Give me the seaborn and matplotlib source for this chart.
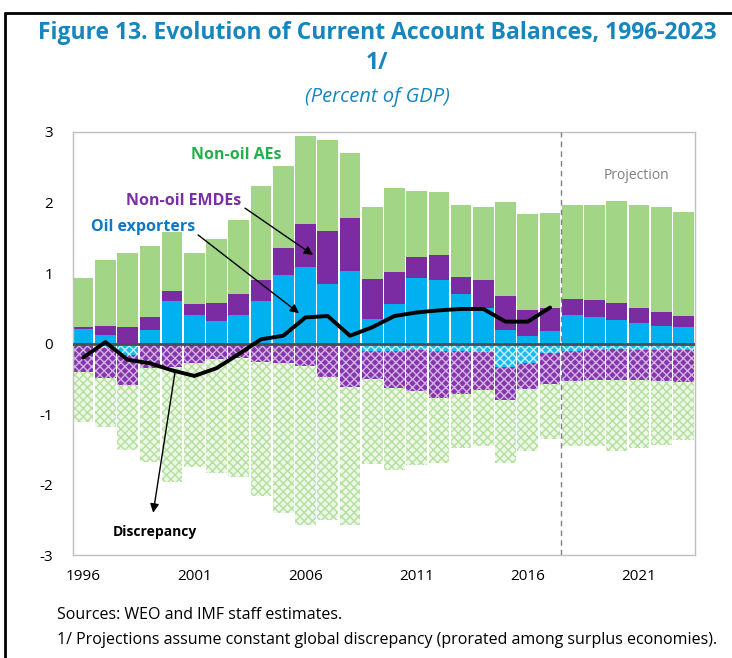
import numpy as np
import pandas as pd
import matplotlib
matplotlib.use("Agg")
import matplotlib.pyplot as plt
from matplotlib.lines import Line2D
import seaborn as sns

years = list(range(1996, 2024))
oil_pos = [0.21, 0.12, 0.00, 0.19, 0.60, 0.41, 0.32, 0.41, 0.60, 0.97, 1.08, 0.84, 1.03, 0.35,
           0.56, 0.93, 0.90, 0.70, 0.51, 0.19, 0.10, 0.18, 0.40, 0.38, 0.33, 0.29, 0.25, 0.24]
emde_pos = [0.02, 0.13, 0.23, 0.18, 0.14, 0.15, 0.25, 0.29, 0.30, 0.39, 0.61, 0.76, 0.75, 0.56,
            0.45, 0.29, 0.35, 0.25, 0.39, 0.49, 0.38, 0.33, 0.23, 0.24, 0.24, 0.22, 0.19, 0.15]
ae_pos = [0.70, 0.93, 1.05, 1.02, 0.84, 0.72, 0.91, 1.05, 1.34, 1.16, 1.25, 1.29, 0.92, 1.03,
          1.20, 0.94, 0.90, 1.02, 1.04, 1.32, 1.35, 1.34, 1.33, 1.34, 1.45, 1.46, 1.49, 1.47]
oil_neg = [0.00, -0.07, -0.16, 0.00, 0.00, 0.00, 0.00, 0.00, 0.00, 0.00, 0.00, 0.00, 0.00, -0.11,
           -0.11, -0.09, -0.10, -0.11, -0.12, -0.34, -0.27, -0.14, -0.10, -0.09, -0.08, -0.09, -0.09, -0.09]
emde_neg = [-0.40, -0.42, -0.43, -0.35, -0.34, -0.28, -0.22, -0.21, -0.26, -0.28, -0.32, -0.48, -0.62, -0.40,
            -0.52, -0.59, -0.67, -0.60, -0.54, -0.46, -0.38, -0.43, -0.43, -0.43, -0.44, -0.43, -0.44, -0.46]
ae_neg = [-0.71, -0.69, -0.92, -1.33, -1.62, -1.47, -1.62, -1.68, -1.90, -2.13, -2.25, -2.02, -1.95, -1.20,
          -1.17, -1.05, -0.92, -0.77, -0.80, -0.90, -0.88, -0.78, -0.93, -0.94, -1.01, -0.96, -0.91, -0.82]
disc_years = list(range(1996, 2018))
discrepancy = [-0.20, 0.02, -0.23, -0.28, -0.38, -0.46, -0.35, -0.15, 0.06, 0.11, 0.37, 0.39, 0.11, 0.23,
               0.39, 0.44, 0.47, 0.49, 0.49, 0.31, 0.31, 0.51]
tick_years = [1996, 2001, 2006, 2011, 2016, 2021]
y_ticks = [3, 2, 1, 0, -1, -2, -3]

sns.set_style("white")
plt.rcParams['font.family'] = ['Open Sans', 'DejaVu Sans']
plt.rcParams['hatch.linewidth'] = 1.0

GREEN = '#a2d586'
PURPLE = '#7c2ca3'
BLUE = '#00b0f0'

df = pd.DataFrame({'year': years, 'oil_pos': oil_pos, 'emde_pos': emde_pos, 'ae_pos': ae_pos,
                   'oil_neg': oil_neg, 'emde_neg': emde_neg, 'ae_neg': ae_neg})
df['pos2'] = df['oil_pos'] + df['emde_pos']
df['pos3'] = df['pos2'] + df['ae_pos']
df['neg2'] = df['oil_neg'] + df['emde_neg']
df['neg3'] = df['neg2'] + df['ae_neg']

fig = plt.figure(figsize=(7.32, 6.58), dpi=100)
ax = fig.add_axes([0.0993, 0.1565, 0.8502, 0.6429])

W = 0.93
common = dict(x='year', ax=ax, width=W, errorbar=None, saturation=1, linewidth=0)
# negative, hatched
sns.barplot(data=df, y='neg3', color='#eef8e8', edgecolor='#b3e09c', hatch='xxxx', **common)
sns.barplot(data=df, y='neg2', color='#8536ac', edgecolor='#d3b3e4', hatch='xxxx', **common)
sns.barplot(data=df, y='oil_neg', color='#1bbaf2', edgecolor='#c9eefc', hatch='xxxx', **common)
# positive, solid
sns.barplot(data=df, y='pos3', color=GREEN, **common)
sns.barplot(data=df, y='pos2', color=PURPLE, **common)
sns.barplot(data=df, y='oil_pos', color=BLUE, **common)

# discrepancy line
pos_idx = [years.index(y) for y in disc_years]
sns.lineplot(x=pos_idx, y=discrepancy, ax=ax, color='black', lw=2.8, zorder=5)

ax.axhline(0, color='#4d4d4d', lw=2, zorder=4)
ax.axvline(years.index(2017) + 0.5, color='#808080', lw=1, ls=(0, (4, 3)), zorder=4)

ax.set_ylim(-3, 3)
ax.set_xlim(-0.47, 27.52)
ax.set_yticks(y_ticks)
ax.set_yticklabels([str(v) for v in y_ticks])
ax.set_xticks([years.index(y) for y in tick_years])
ax.set_xticklabels([str(y) for y in tick_years])
ax.tick_params(axis='both', length=0, labelsize=11, colors='black')
ax.tick_params(axis='y', pad=14)
ax.tick_params(axis='x', pad=10)
ax.set_xlabel('')
ax.set_ylabel('')
for s in ax.spines.values():
    s.set_color('#bfbfbf')
    s.set_linewidth(1)

# labels and arrows
ax.text(6.88, 2.67, 'Non-oil AEs', color='#22b04c', fontsize=11.5, fontweight='bold', ha='center', va='center')
ax.text(4.5, 2.02, 'Non-oil EMDEs', color='#7b2fa5', fontsize=11.5, fontweight='bold', ha='center', va='center')
ax.text(2.7, 1.65, 'Oil exporters', color='#0b78c8', fontsize=11.5, fontweight='bold', ha='center', va='center')
ax.text(3.24, -2.67, 'Discrepancy', color='black', fontsize=10, fontweight='bold', ha='center', va='center')
ax.text(24.87, 2.39, 'Projection', color='#7f7f7f', fontsize=10, ha='center', va='center')

ap = dict(arrowstyle='-|>', color='black', lw=1, mutation_scale=13, shrinkA=0, shrinkB=0)
ax.annotate('', xy=(10.34, 1.255), xytext=(7.28, 1.92), arrowprops=ap, zorder=6)
ax.annotate('', xy=(9.71, 0.43), xytext=(5.17, 1.54), arrowprops=ap, zorder=6)
ax.annotate('', xy=(3.15, -2.40), xytext=(4.14, -0.39), arrowprops=ap, zorder=6)

# titles
TITLE = '#1786be'
fig.text(377 / 732, 1 - 33 / 658, 'Figure 13. Evolution of Current Account Balances, 1996-2023',
         color=TITLE, fontsize=16.5, fontweight='bold', ha='center', va='center')
fig.text(377 / 732, 1 - 63 / 658, '1/', color=TITLE, fontsize=16.5, fontweight='bold', ha='center', va='center')
fig.text(377 / 732, 1 - 97 / 658, '(Percent of GDP)', color=TITLE, fontsize=14.5, style='italic',
         ha='center', va='center')

# footnotes
fig.text(57 / 732, 1 - 615 / 658, 'Sources: WEO and IMF staff estimates.', fontsize=11.5,
         ha='left', va='center', color='black')
fig.text(57 / 732, 1 - 640 / 658,
         '1/ Projections assume constant global discrepancy (prorated among surplus economies).',
         fontsize=11.5, ha='left', va='center', color='black')

# outer frame (top and left)
fig.add_artist(Line2D([5 / 732, 1.0], [1 - 13 / 658, 1 - 13 / 658], color='black', lw=2,
                      transform=fig.transFigure))
fig.add_artist(Line2D([5 / 732, 5 / 732], [1 - 13 / 658, 0.0], color='black', lw=2,
                      transform=fig.transFigure))

fig.savefig('out.png', dpi=100)
